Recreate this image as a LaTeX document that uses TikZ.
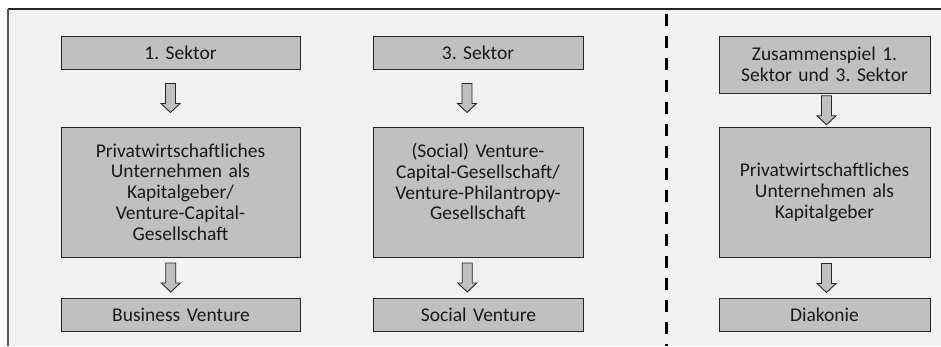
\documentclass[tikz,border=0pt]{standalone}
\usepackage{fontspec}
\setmainfont{Carlito}
\usetikzlibrary{calc}
\frenchspacing

\definecolor{hintergrund}{RGB}{242,242,242}
\definecolor{kastengrau}{RGB}{192,192,192}
\definecolor{rahmen}{RGB}{38,38,38}

% block arrow between two boxes, optional horizontal offset
\newcommand{\sektorpfeil}[3][0]{%
  \coordinate (m) at ($(#2.south)!0.5!(#3.north)+(#1,0)$);
  \draw[pfeilform] ($(m)+(-5,-14.5)$) -- ($(m)+(5,-14.5)$) -- ($(m)+(5,5.5)$)
    -- ($(m)+(9.5,5.5)$) -- ($(m)+(0,14.5)$) -- ($(m)+(-9.5,5.5)$)
    -- ($(m)+(-5,5.5)$) -- cycle;}

\begin{document}
\begin{tikzpicture}[x=1pt,y=-1pt,
    kasten/.style={draw=rahmen,fill=kastengrau,line width=0.9pt,inner sep=0pt,
      align=center,text=black!90,font=\fontsize{19.5}{20.8}\selectfont},
    pfeilform/.style={draw=rahmen,fill=kastengrau,line width=0.9pt,line join=miter}]

    \useasboundingbox (0,0) rectangle (941,346);

    % frame
    \fill[hintergrund] (8,9) rectangle (941,346);
    \draw[black!85,line width=1.5pt] (8,9) -- (941,9);
    \draw[black!65,line width=1.5pt] (8,9) -- (8,346);

    % separator
    \draw[black,line width=3pt,dash pattern=on 12pt off 10pt] (666.5,14) -- (666.5,346);

    % 1. Sektor
    \node[kasten,minimum width=239,minimum height=33,text width=230] (sektorA) at (180.5,52.5) {1. Sektor};
    \node[kasten,minimum width=239,minimum height=130,text width=230] (geberA) at (180.5,192)
      {Privatwirtschaftliches\\Unternehmen als\\Kapitalgeber/\\Venture-Capital-\\Gesellschaft};
    \node[kasten,minimum width=239,minimum height=33,text width=230] (ventureA) at (181,314.5) {Business Venture};

    % 3. Sektor
    \node[kasten,minimum width=210,minimum height=33,text width=200] (sektorB) at (478,52.5) {3. Sektor};
    \node[kasten,minimum width=210,minimum height=130,text width=200] (geberB) at (478,192)
      {(Social) Venture-\\Capital-Gesellschaft/\\Venture-Philantropy-\\Gesellschaft\\~};
    \node[kasten,minimum width=210,minimum height=33,text width=200] (ventureB) at (478.5,314.5) {Social Venture};

    % Zusammenspiel
    \node[kasten,minimum width=211,minimum height=57,text width=200] (sektorC) at (824.5,64.5)
      {Zusammenspiel 1.\\Sektor und 3. Sektor};
    \node[kasten,minimum width=211,minimum height=130,text width=200] (geberC) at (824.5,192.5)
      {Privatwirtschaftliches\\Unternehmen als\\Kapitalgeber};
    \node[kasten,minimum width=211,minimum height=33,text width=200] (ventureC) at (824.5,315) {Diakonie};

    \sektorpfeil[-10]{sektorA}{geberA}
    \sektorpfeil[-10]{geberA}{ventureA}
    \sektorpfeil[-11]{sektorB}{geberB}
    \sektorpfeil[-11]{geberB}{ventureB}
    \sektorpfeil[2]{sektorC}{geberC}
    \sektorpfeil[2]{geberC}{ventureC}

  \end{tikzpicture}
\end{document}
